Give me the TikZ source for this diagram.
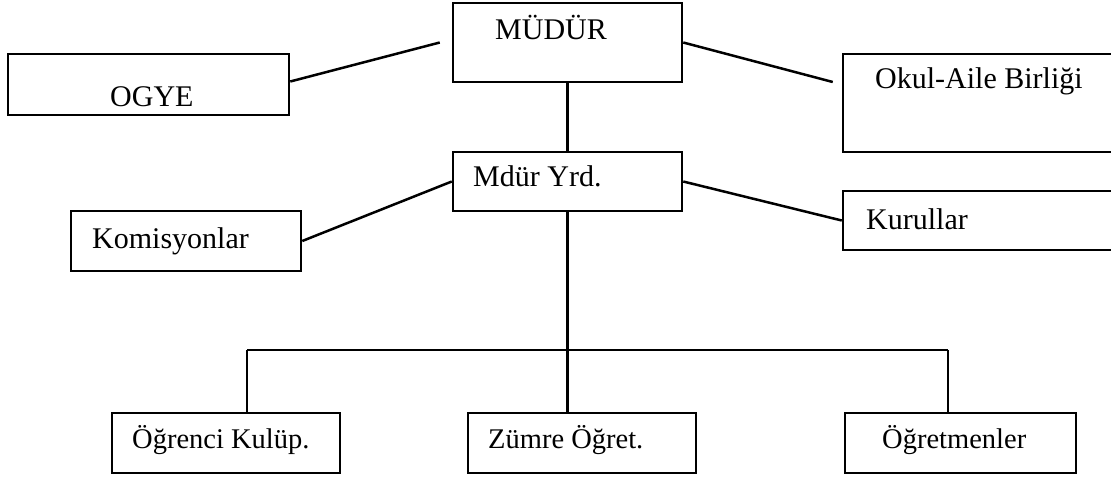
\documentclass[tikz,border=0pt]{standalone}
\usepackage{fontspec}
\setmainfont{Liberation Serif}
\begin{document}
\begin{tikzpicture}[x=1pt,y=-1pt,
  box/.style={draw,line width=2.5pt,rectangle,inner sep=0pt,minimum width=#1},
  conn/.style={line width=2.5pt},
  lbl/.style={anchor=base west,inner sep=0pt,font=\fontsize{30}{34}\selectfont},
  lbls/.style={anchor=base west,inner sep=0pt,font=\fontsize{28.5}{32}\selectfont}]
\useasboundingbox (0,0) rectangle (1111,480);
% boxes
\node[box=229pt,minimum height=79pt] (mudur) at (567.5,42.5) {};
\node[box=281pt,minimum height=61pt] (ogye) at (148.5,84.5) {};
\node[box=280pt,minimum height=98pt] (okul) at (983,103) {};
\node[box=229pt,minimum height=59pt] (yrd) at (567.5,181.5) {};
\node[box=230pt,minimum height=60pt] (kom) at (186,241) {};
\node[box=280pt,minimum height=59pt] (kur) at (983,220.5) {};
\node[box=228pt,minimum height=60pt] (ogr) at (226,443) {};
\node[box=228pt,minimum height=60pt] (zum) at (582,443) {};
\node[box=231pt,minimum height=60pt] (ogt) at (960.5,443) {};
% texts
\node[lbl] (tmudur) at (495,39) {MÜDÜR};
\node[lbl] (togye) at (110,106) {OGYE};
\node[lbl] (tokul) at (875,88) {Okul-Aile Birliği};
\node[lbl] (tyrd) at (473,186) {Mdür Yrd.};
\node[lbl] (tkom) at (92,248) {Komisyonlar};
\node[lbl] (tkur) at (866,229) {Kurullar};
\node[lbls] (togr) at (132,448) {Öğrenci Kulüp.};
\node[lbls] (tzum) at (488,448) {Zümre Öğret.};
\node[lbls] (togt) at (882,448) {Öğretmenler};
% connectors
\draw[conn] ([yshift=3pt]ogye.east) -- ([xshift=-12pt]mudur.west);
\draw[conn] (mudur.east) -- ([xshift=-9pt,yshift=21pt]okul.west);
\draw[conn] (mudur.south) -- (mudur.south |- yrd.north);
\draw[conn] (yrd.west) -- (kom.east);
\draw[conn] (yrd.east) -- (kur.west);
\coordinate (bl) at (247,350);
\coordinate (br) at (948,350);
\draw[conn] (yrd.south) -- (yrd.south |- zum.north);
\draw[conn] (bl) -- (br);
\draw[conn] (bl) -- (bl |- ogr.north);
\draw[conn] (br) -- (br |- ogt.north);
\end{tikzpicture}
\end{document}
